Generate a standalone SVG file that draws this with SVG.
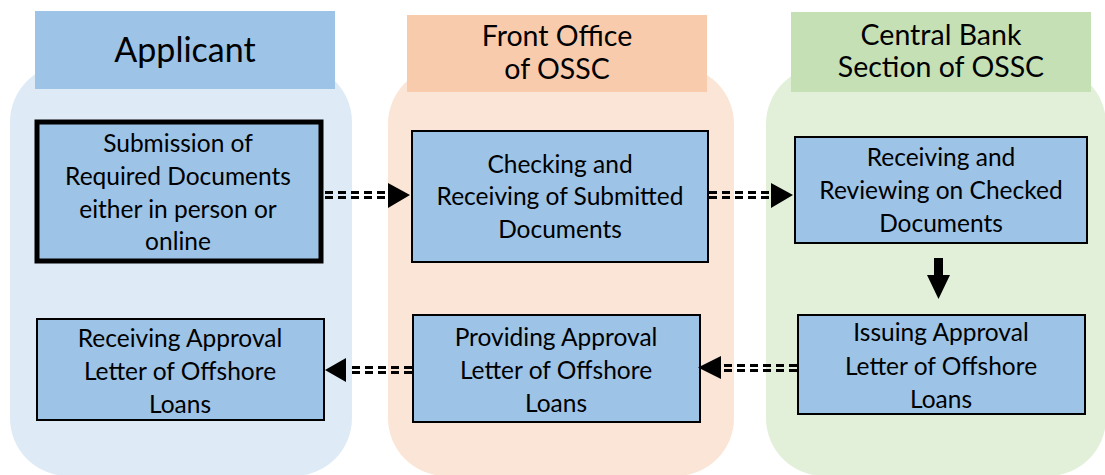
<svg xmlns="http://www.w3.org/2000/svg" width="1105" height="475" viewBox="0 0 1105 475">
<style>
text{font-family:Lato,"Liberation Sans",sans-serif;fill:#000;text-anchor:middle}
.t{font-size:24.5px}
.h{font-size:28.5px}
.node{fill:#9DC3E6;stroke:#000;stroke-width:2}
.dash{stroke:#000;stroke-width:3;stroke-dasharray:8 5;fill:none}
</style>
<rect width="1105" height="475" fill="#fff"/>
<g id="lanes">
<rect x="10" y="64" width="342" height="412" rx="58" fill="#DEEBF7"/>
<rect x="388" y="66" width="346" height="410" rx="58" fill="#FBE5D6"/>
<rect x="766" y="66" width="340" height="410" rx="58" fill="#E2F0D9"/>
</g>
<g id="header-applicant">
<rect x="35" y="11" width="300" height="78" fill="#9DC3E6"/>
<text x="185" y="62" style="font-size:34px">Applicant</text>
</g>
<g id="header-front">
<rect x="407" y="15" width="300" height="77" fill="#F8CBAD"/>
<text x="557" y="46" class="h">Front Office</text>
<text x="557" y="79" class="h">of OSSC</text>
</g>
<g id="header-central">
<rect x="791" y="12" width="300" height="80" fill="#C5E0B4"/>
<text x="941" y="45" class="h">Central Bank</text>
<text x="941" y="77" class="h">Section of OSSC</text>
</g>
<g id="n-submission">
<rect x="37" y="122" width="284" height="139" fill="#9DC3E6" stroke="#000" stroke-width="5"/>
<text x="178" y="152" class="t">Submission of</text>
<text x="178" y="185" class="t">Required Documents</text>
<text x="178" y="218" class="t">either in person or</text>
<text x="178" y="250" class="t">online</text>
</g>
<g id="n-checking">
<rect x="412" y="131" width="296" height="131" class="node"/>
<text x="560" y="173" class="t">Checking and</text>
<text x="560" y="205" class="t">Receiving of Submitted</text>
<text x="560" y="238" class="t">Documents</text>
</g>
<g id="n-reviewing">
<rect x="795" y="137" width="292" height="106" class="node"/>
<text x="941" y="166" class="t">Receiving and</text>
<text x="941" y="199" class="t">Reviewing on Checked</text>
<text x="941" y="232" class="t">Documents</text>
</g>
<g id="n-issuing">
<rect x="798" y="315" width="287" height="99" class="node"/>
<text x="941" y="341" class="t">Issuing Approval</text>
<text x="941" y="375" class="t">Letter of Offshore</text>
<text x="941" y="408" class="t">Loans</text>
</g>
<g id="n-providing">
<rect x="413" y="315" width="287" height="107" class="node"/>
<text x="556" y="346" class="t">Providing Approval</text>
<text x="556" y="379" class="t">Letter of Offshore</text>
<text x="556" y="412" class="t">Loans</text>
</g>
<g id="n-receiving">
<rect x="37" y="319" width="287" height="101" class="node"/>
<text x="180" y="347" class="t">Receiving Approval</text>
<text x="180" y="380" class="t">Letter of Offshore</text>
<text x="180" y="413" class="t">Loans</text>
</g>
<g id="connectors">
<path class="dash" d="M325 192.5H388M325 197.5H388"/>
<polygon points="388,183 410,195 388,208"/>
<path class="dash" d="M709 192.5H771M709 197.5H771"/>
<polygon points="771,183 793,195 771,208"/>
<rect x="934" y="258" width="9" height="18"/>
<polygon points="927,275 950,275 938.5,299"/>
<path class="dash" d="M797 365.5H724M797 370.5H724"/>
<polygon points="721,356 698,367.5 721,379"/>
<path class="dash" d="M412 367.5H348M412 372.5H348"/>
<polygon points="346,358 325,370 346,382"/>
</g>
</svg>
